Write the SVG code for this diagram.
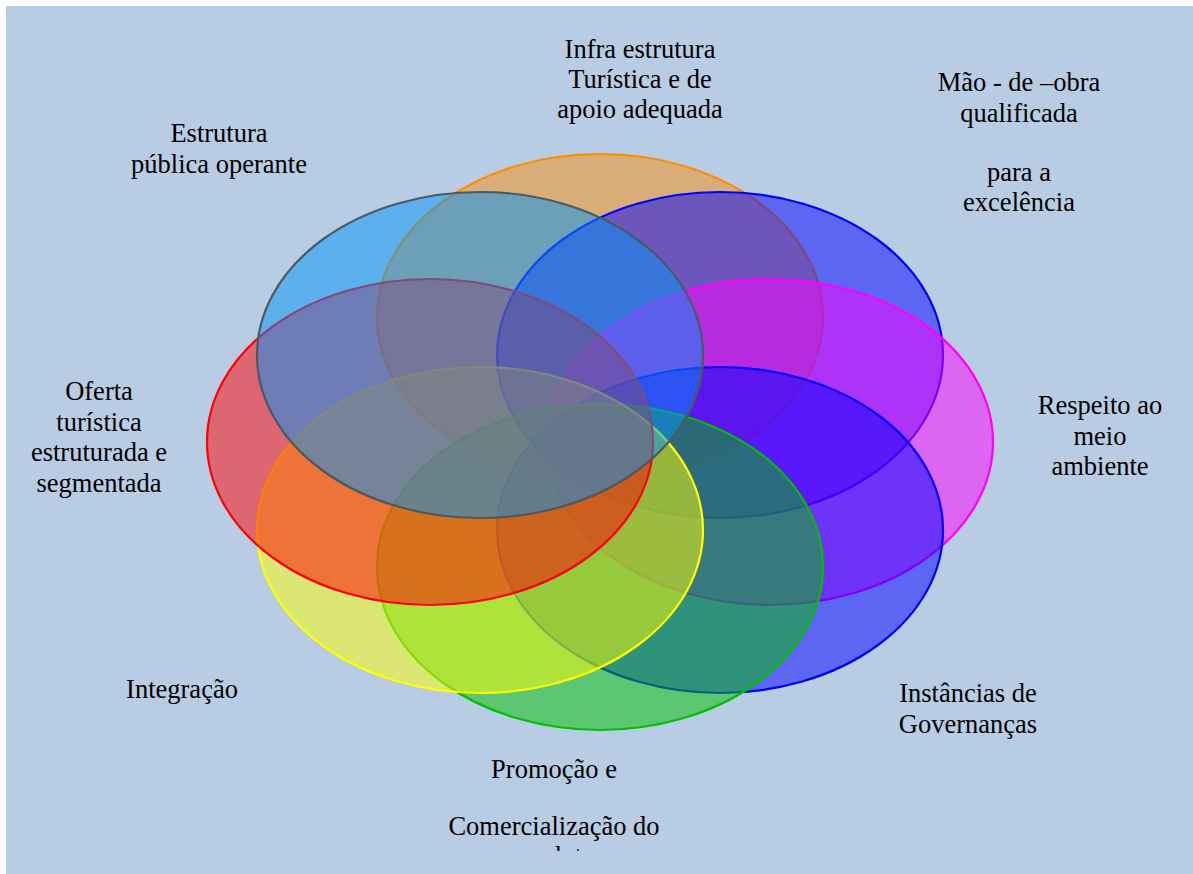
<svg xmlns="http://www.w3.org/2000/svg" width="1193" height="874" viewBox="0 0 1193 874">
<defs>
<style>
.bg{fill:#b8cce4}
.e{fill-opacity:0.5;stroke-width:2.2}
.t{font-family:"Liberation Serif","Times New Roman",serif;font-size:26.5px;fill:#000;text-anchor:middle}
</style>
<clipPath id="clipBottom"><rect x="0" y="0" width="1193" height="851"/></clipPath>
</defs>
<rect class="bg" x="6" y="6" width="1187" height="868"/>
<g id="circles">
<g id="n1"><ellipse class="e" cx="600" cy="317" rx="223" ry="163" fill="#fa8e0c" stroke="#ff8c00"/></g>
<g id="n2"><ellipse class="e" cx="720" cy="355" rx="223" ry="163" fill="#0000ff" stroke="#0000ff"/></g>
<g id="n3"><ellipse class="e" cx="770" cy="442" rx="223" ry="163" fill="#ff00ff" stroke="#ff00ff"/></g>
<g id="n4"><ellipse class="e" cx="720" cy="530" rx="223" ry="163" fill="#0000ff" stroke="#0000ff"/></g>
<g id="n5"><ellipse class="e" cx="600" cy="567" rx="223" ry="163" fill="#00c000" stroke="#00c000"/></g>
<g id="n6"><ellipse class="e" cx="480" cy="530" rx="223" ry="163" fill="#ffff00" stroke="#ffff00"/></g>
<g id="n7"><ellipse class="e" cx="430" cy="442" rx="223" ry="163" fill="#ff0000" stroke="#ff0000"/></g>
<g id="n8"><ellipse class="e" cx="480" cy="355" rx="223" ry="163" fill="#0094f8" stroke="#4a5a60"/></g>
</g>
<g id="labels">
<g id="l1"><text class="t" x="640" y="58">Infra estrutura</text><text class="t" x="640" y="88">Turística e de</text><text class="t" x="640" y="118">apoio adequada</text></g>
<g id="l2"><text class="t" x="1019" y="91">Mão - de –obra</text><text class="t" x="1019" y="122">qualificada</text><text class="t" x="1019" y="181">para a</text><text class="t" x="1019" y="211">excelência</text></g>
<g id="l3"><text class="t" x="1100" y="414">Respeito ao</text><text class="t" x="1100" y="445">meio</text><text class="t" x="1100" y="475">ambiente</text></g>
<g id="l4"><text class="t" x="968" y="702">Instâncias de</text><text class="t" x="968" y="733">Governanças</text></g>
<g id="l5"><text class="t" x="554" y="778">Promoção e</text><text class="t" x="554" y="835">Comercialização do</text><text class="t" x="554" y="865" clip-path="url(#clipBottom)">produto</text></g>
<g id="l6"><text class="t" x="182" y="698">Integração</text></g>
<g id="l7"><text class="t" x="99" y="400">Oferta</text><text class="t" x="99" y="431">turística</text><text class="t" x="99" y="461">estruturada e</text><text class="t" x="99" y="492">segmentada</text></g>
<g id="l8"><text class="t" x="219" y="142">Estrutura</text><text class="t" x="219" y="173">pública operante</text></g>
</g>
</svg>
